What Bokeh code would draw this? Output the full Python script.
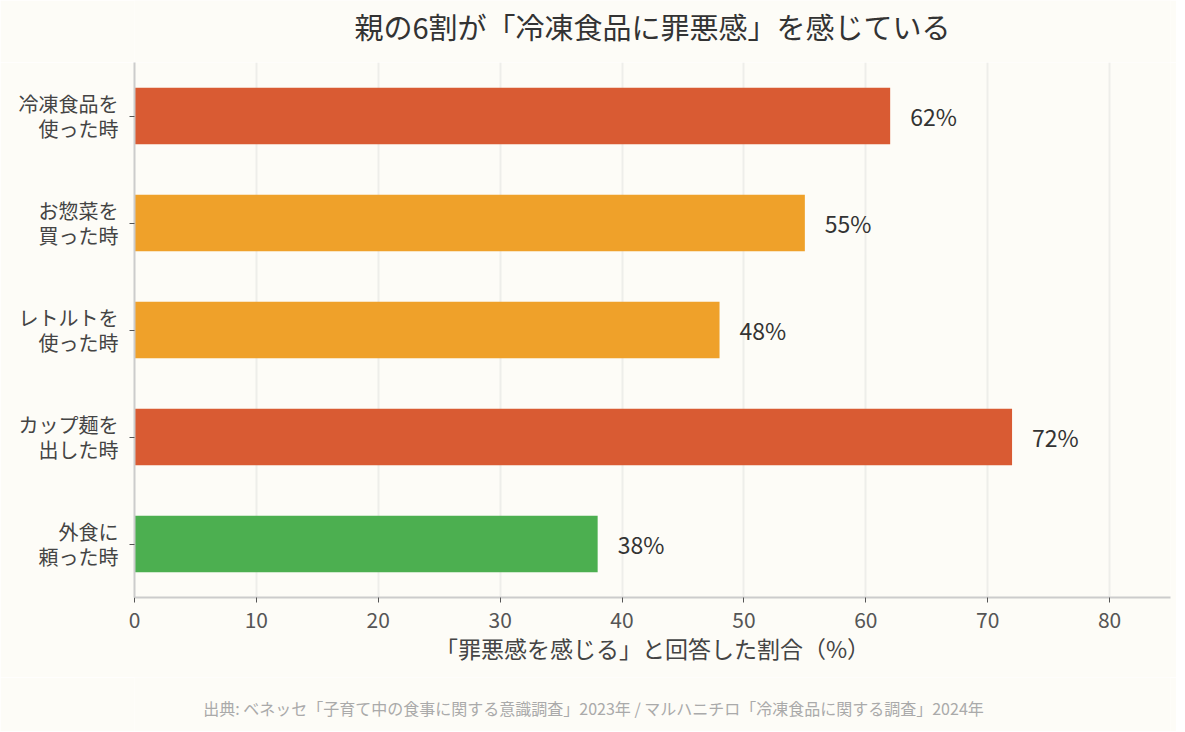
from bokeh.plotting import figure
from bokeh.layouts import column
from bokeh.models import ColumnDataSource, FactorRange, Range1d, LabelSet
from bokeh.core.properties import value
from bokeh.embed import file_html
from bokeh.resources import INLINE

categories = ["冷凍食品を\n使った時", "お惣菜を\n買った時", "レトルトを\n使った時", "カップ麺を\n出した時", "外食に\n頼った時"]
values = [62, 55, 48, 72, 38]
colors = ["#D95B33", "#EFA12A", "#EFA12A", "#D95B33", "#4CAF50"]
labels = [f"{v}%" for v in values]
title_text = "親の6割が「冷凍食品に罪悪感」を感じている"
xlabel = "「罪悪感を感じる」と回答した割合（%）"
footer = "出典: ベネッセ「子育て中の食事に関する意識調査」2023年 / マルハニチロ「冷凍食品に関する調査」2024年"

FONT = "Noto Sans CJK JP"
BG = "#FDFCF7"
W = 1176
LEFT, RIGHT = 134, 6
FW, FH = W - LEFT - RIGHT, 535
TOP_H, BOTTOM_B, FOOT_H = 62, 80, 54


def text_strip(height, x, y, txt, size, color):
    # column layouts align frames, so this strip's frame spans the main plot frame
    f = figure(width=W, height=height, x_range=Range1d(0, FW), y_range=Range1d(0, height),
               x_axis_type=None, y_axis_type=None, output_backend="svg", toolbar_location=None,
               background_fill_color=BG, border_fill_color=BG, min_border=0)
    f.outline_line_color = None
    f.grid.visible = False
    f.text(x=[x], y=[y], text=[txt], text_align="center", text_baseline="middle",
           text_font=value(FONT), text_font_size=size, text_color=color)
    return f


title_fig = text_strip(TOP_H, FW / 2, TOP_H - 25, title_text, "29px", "#333333")

src = ColumnDataSource(dict(cat=categories, val=values, color=colors, label=labels))

p = figure(y_range=FactorRange(*reversed(categories), range_padding=0),
           x_range=Range1d(0, 85),
           frame_width=FW, frame_height=FH,
           output_backend="svg", toolbar_location=None,
           background_fill_color=BG, border_fill_color=BG,
           min_border_left=LEFT, min_border_right=RIGHT, min_border_top=0, min_border_bottom=BOTTOM_B)
p.outline_line_color = None

p.hbar(y="cat", right="val", height=0.53, left=0, color="color", source=src, line_color=None)

p.add_layout(LabelSet(x="val", y="cat", text="label", source=src, x_offset=20, y_offset=0,
                      text_align="left", text_baseline="middle", text_font=value(FONT),
                      text_font_size="23px", text_color="#333333"))

p.xaxis.ticker = [0, 10, 20, 30, 40, 50, 60, 70, 80]
p.xaxis.axis_label = xlabel
p.xaxis.axis_label_text_font = FONT
p.xaxis.axis_label_text_font_size = "23px"
p.xaxis.axis_label_text_font_style = "normal"
p.xaxis.axis_label_text_color = "#444444"
p.xaxis.axis_label_standoff = 0
p.xaxis.major_label_text_font = FONT
p.xaxis.major_label_text_font_size = "21px"
p.xaxis.major_label_text_color = "#555555"
p.xaxis.major_label_standoff = 9
p.xaxis.minor_tick_line_color = None

for ax in (p.xaxis, p.yaxis):
    ax.axis_line_color = "#CCCCCC"
    ax.axis_line_width = 2
    ax.major_tick_line_color = "#555555"
    ax.major_tick_out = 5
    ax.major_tick_in = 0

p.yaxis.major_label_text_font = FONT
p.yaxis.major_label_text_font_size = "20px"
p.yaxis.major_label_text_color = "#444444"
p.yaxis.major_label_standoff = 11
p.yaxis.major_label_text_line_height = 0.85

p.ygrid.grid_line_color = None
p.xgrid.grid_line_color = "#EEEEEA"
p.xgrid.grid_line_width = 2

footer_fig = text_strip(FOOT_H, 593 - LEFT, FOOT_H - (707 - (TOP_H + FH + BOTTOM_B)), footer, "16px", "#AAAAAA")

layout = column(title_fig, p, footer_fig, spacing=0)
open("out.html", "w").write(file_html(layout, INLINE))
